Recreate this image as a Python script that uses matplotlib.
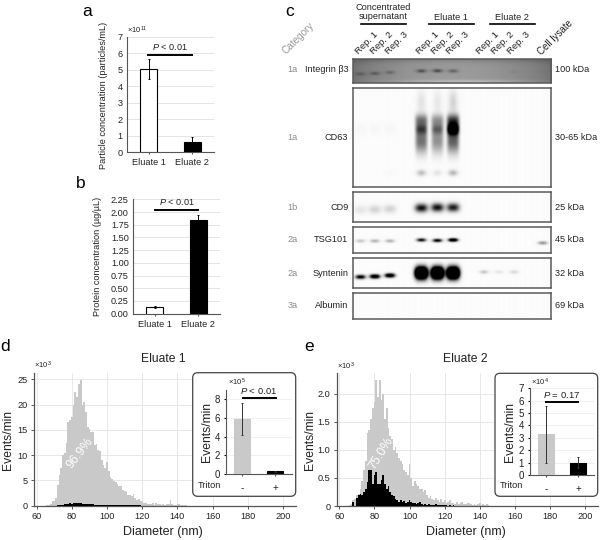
import numpy as np
import matplotlib
matplotlib.use("Agg")
import matplotlib.pyplot as plt
from matplotlib.patches import FancyBboxPatch

plt.rcParams['font.family'] = ['Liberation Sans', 'DejaVu Sans']
plt.rcParams['mathtext.fontset'] = 'custom'
plt.rcParams['mathtext.rm'] = 'Liberation Sans'
plt.rcParams['mathtext.it'] = 'Liberation Sans:italic'
plt.rcParams['axes.unicode_minus'] = False

# ---------- data ----------
eluates = ['Eluate 1', 'Eluate 2']
particle_vals = [5.05, 0.6]
particle_err = [0.6, 0.3]
protein_vals = [0.13, 1.84]
protein_err = [0.012, 0.11]

hist_start = 66
d_gray = [.05, .2, .4, .9, 1.0, 1.6, 4.0, 6.0, 7.5, 10, 10.5, 12.5, 16.5, 17, 17.5, 20, 22.5, 21.5, 24, 24.8,
          20, 20.5, 18.5, 15.5, 15.2, 14.5, 14.6, 12, 12.3, 11, 10.8, 9, 8, 7.4, 8.7, 6.8, 5.6, 5.2, 4.8, 4.6,
          4.2, 3.8, 3.8, 3.2, 3.0, 2.8, 2.2, 2.2, 1.9, 2.3, 1.6, 1.2, 1.3, .9, 1.0, .6, .5, .3, .4, .3,
          .5, .2, .6, .3, .4, .2, .3, .2, .3, .4, 1.1, .4, .2, .2, .3, .4, .1, .1, .1, .1]
d_black = [0, 0, 0, 0, 0, 0, .05, .1, .15, .2, .25, .3, .4, .45, .4, .5, .5, .45, .5, .45,
           .4, .35, .35, .3, .3, .25, .25, .2, .2, .2, .15, .15, .15, .15, .15, .1, .1, .1, .1, .1,
           .1, .1, .1, .05, .05, .05, .05, .05, .05, .05, .05, .05, .05, .05, .03, .03, .03, .03, .03, .03]
e_gray = [.02, .03, .1, .12, .2, .22, .3, .45, .65, .8, 1.3, 1.35, 1.55, 1.75, 1.85, 2.25, 1.95, 2.25, 1.9, 2.0,
          1.55, 1.75, 1.4, 1.25, 1.2, 1.0, 1.05, .95, .85, .8, .75, .65, .6, .55, .75, .5, .35, .45, .4, .35,
          .3, .3, .25, .28, .2, .15, .18, .12, .1, .15, .1, .08, .12, .07, .1, .06, .08, .1, .05, .06,
          .04, .07, .03, .05, .08, .04, .03, .05, .06, .03, .02, .04, .02, .03, .05, .02, .03, .02, .04, .02]
e_black = [0, 0, .08, 0, .15, .2, .22, .2, .25, .3, .42, .65, .65, .4, .55, .6, .4, .4, .47, .55,
           .4, .3, .35, .25, .2, .17, .12, .1, .08, .1, .07, .09, .06, .07, .1, .08, .05, .06, .04, .05,
           .07, .04, .02, .03, .02, .03, .02, .01, .02, .03, .01, .02, .01, .02, .01, .01, 0, .01, 0, .01]

triton = ['-', '+']
d_inset_vals = [5.9, 0.3]
d_inset_err = [1.7, 0.1]
e_inset_vals = [3.3, 1.0]
e_inset_err = [2.3, 0.45]

blot_names = ['Integrin β3', 'CD63', 'CD9', 'TSG101', 'Syntenin', 'Albumin']
blot_cats = ['1a', '1a', '1b', '2a', '2a', '3a']
blot_kda = ['100 kDa', '30-65 kDa', '25 kDa', '45 kDa', '32 kDa', '69 kDa']
lane_groups = ['Concentrated\nsupernatant', 'Eluate 1', 'Eluate 2']
rep_labels = ['Rep. 1', 'Rep. 2', 'Rep. 3']
# band strength per lane: 3 supernatant, 3 eluate 1, 3 eluate 2, cell lysate
integrin_i = [.35, .45, .35, .65, .7, .5, 0, 0, .08, .03]
cd63_core = [.02, .02, .02, .55, .45, 1.4, 0, 0, 0, 0]
cd63_upper = [0, 0, 0, .5, .38, .7, 0, 0, 0, 0]
cd63_lower = [0, 0, 0, .55, .42, .62, 0, 0, 0, 0]
cd63_top = [0, 0, 0, .10, .08, .16, 0, 0, 0, 0]
cd63_spot = [0, 0, .015, .25, .1, .28, 0, 0, 0, 0]
cd9_i = [.09, .16, .16, .95, .95, .9, 0, .01, 0, 0]
tsg101_i = [.22, .3, .3, 1.0, 1.1, 1.5, 0, 0, 0, .42]
syntenin_sup = [1.1, 1.4, 1.4, 0, 0, 0, 0, 0, 0, 0]
syntenin_el1 = [0, 0, 0, 3, 3, 3, 0, 0, 0, 0]
syntenin_el2 = [0, 0, 0, 0, 0, 0, .22, .09, .15, 0]

# ---------- layout helpers ----------
W, H = 600, 540
fig = plt.figure(figsize=(6, 5.4), dpi=100, facecolor='white')
INK = '#222222'
AX = '#555555'


def px_axes(x0, y0, x1, y1, **kw):
    return fig.add_axes([x0 / W, 1 - y1 / H, (x1 - x0) / W, (y1 - y0) / H], **kw)


ov = fig.add_axes([0, 0, 1, 1], zorder=5)
ov.set_xlim(0, W)
ov.set_ylim(H, 0)
ov.axis('off')
ov.patch.set_alpha(0)


def t(x, y, s, size=6.6, ha='center', va='center', color=INK, **kw):
    ov.text(x, y, s, fontsize=size, ha=ha, va=va, color=color, **kw)


def bar_panel(ax, vals, err, colors, ylim, ticks, labels, width, fs=6.6, ecol='black'):
    xs = np.arange(len(vals))
    ax.bar(xs, vals, width=width, color=colors, edgecolor='black' if colors[0] == 'white' else colors,
           linewidth=0.8, zorder=3)
    ax.errorbar(xs, vals, yerr=err, fmt='none', ecolor=ecol, elinewidth=0.7, capsize=1, capthick=0.7, zorder=4)
    ax.set_xlim(-0.5, 1.5)
    ax.set_ylim(*ylim)
    ax.set_yticks(ticks)
    ax.set_xticks(xs)
    ax.set_xticklabels(labels)
    ax.grid(axis='y', color='#e4e4e4', lw=0.7, zorder=0)
    ax.set_axisbelow(True)
    for s in ('top', 'right'):
        ax.spines[s].set_visible(False)
    for s in ('left', 'bottom'):
        ax.spines[s].set_color(AX)
        ax.spines[s].set_linewidth(0.8)
    ax.tick_params(axis='y', length=0, labelsize=fs, pad=3, labelcolor=INK)
    ax.tick_params(axis='x', length=1.5, labelsize=fs, pad=3, color=AX, labelcolor=INK)
    ax.patch.set_alpha(0)


# ---------- panel a ----------
a = px_axes(127, 37, 214, 152)
bar_panel(a, particle_vals, particle_err, ['white', 'black'], (0, 7), range(8), eluates, 0.4)
a.set_yticklabels([str(i) for i in range(8)])
ov.plot([148, 192], [54.7, 54.7], color='black', lw=1.4)
t(170, 47, r'$\mathit{P}$ < 0.01')
t(127, 30, r'×10$^{11}$', size=5.5, ha='left')
t(104, 95, 'Particle concentration (particles/mL)', rotation=90)
t(87, 12, 'a', size=12.5, color='black')

# ---------- panel b ----------
b = px_axes(133, 199.3, 220, 313.7)
b_ticks = np.arange(0, 2.26, 0.25)
bar_panel(b, protein_vals, protein_err, ['white', 'black'], (0, 2.25), b_ticks, eluates, 0.4)
b.set_yticklabels([f'{v:.2f}' for v in b_ticks])
ov.plot([155, 198], [210, 210], color='black', lw=1.4)
t(176.7, 202.3, r'$\mathit{P}$ < 0.01')
t(98, 256, 'Protein concentration (µg/µL)', rotation=90)
t(81, 184, 'b', size=12.5, color='black')

# ---------- panel c (blots) ----------
lane_x = np.array([360, 374.3, 389.3, 420.7, 436.7, 452.3, 483, 498, 513, 541.7])
BX0, BX1 = 352.7, 550.7
blot_y = [(59, 83), (88, 187), (192, 222), (227, 253), (258, 288), (293, 319)]


def blot_signal(y0, y1, bands):
    """bands: (strength per lane, y centre, half width, half height, edge power)"""
    xx = np.linspace(BX0, BX1, 400)
    yy = np.linspace(y0, y1, max(60, int((y1 - y0) * 3)))
    X, Y = np.meshgrid(xx, yy)
    I = np.zeros_like(X)
    for strengths, yc, sx, sy, p in bands:
        for k, s in enumerate(strengths):
            if s <= 0:
                continue
            yk = yc[k] if np.ndim(yc) else yc
            I += s * np.exp(-(np.abs(X - lane_x[k]) / sx) ** p - ((Y - yk) / sy) ** 2)
    return X, Y, I


def show(idx, spec, darkbg=False):
    y0, y1 = blot_y[idx]
    ax = px_axes(BX0, y0, BX1, y1)
    X, Y, I = blot_signal(y0, y1, spec)
    if darkbg:
        fx = (X - BX0) / (BX1 - BX0)
        fy = (Y - y0) / (y1 - y0)
        base = 0.44 + 0.17 * np.sin(np.pi * fx) ** 0.7 - 0.12 * np.exp(-fy / 0.12) \
            + 0.12 * np.exp(-((fy - .95) / .08) ** 2) * np.exp(-((fx - .55) / .35) ** 2)
        img = np.clip(base * (1 - 0.75 * np.clip(I, 0, 1)), 0, 1)
    else:
        img = np.clip(0.985 * (1 - np.clip(I, 0, 1)), 0, 1)
    ax.imshow(img, cmap='gray', vmin=0, vmax=1, aspect='auto', extent=[BX0, BX1, y1, y0], interpolation='bilinear')
    ax.set_xticks([])
    ax.set_yticks([])
    for s in ax.spines.values():
        s.set_color('#5a5a5a')
        s.set_linewidth(1.1)


show(0, [(integrin_i, np.array([74, 73.5, 72.5, 71, 70.8, 71, 0, 0, 72, 72]), 5, 1.8, 2)], darkbg=True)
show(1, [
    (cd63_core, 129, 5.8, 5.5, 4),
    (cd63_upper, 120, 6.2, 6, 4),
    (cd63_lower, 141, 6.0, 12, 4),
    (cd63_top, 102, 4.5, 12, 2),
    (cd63_spot, 173, 4.5, 3, 2),
])
show(2, [(cd9_i, np.array([210, 209.5, 209, 208, 207.5, 207.5, 0, 0, 0, 0]), 6.2, 4.2, 2.6)])
show(3, [(tsg101_i, np.array([241, 241, 241, 240, 240.5, 240, 0, 0, 0, 243]), 4.6, 1.7, 2.4)])
show(4, [(syntenin_sup, np.array([277, 276.5, 275.5, 0, 0, 0, 0, 0, 0, 0]), 5, 2.1, 2.6),
         (syntenin_el1, 273, 6.2, 5.8, 3),
         (syntenin_el2, 272, 4.2, 1.8, 2)])
show(5, [])

for i, (y0, y1) in enumerate(blot_y):
    yc = (y0 + y1) / 2 + (-1 if i == 0 else 0)
    t(292.3, yc, blot_cats[i], color='#8c8c8c')
    t(348.3, yc, blot_names[i], ha='right')
    t(555, yc, blot_kda[i], ha='left')

t(383.3, 11.7, lane_groups[0], linespacing=1.05)
t(451, 17.3, lane_groups[1])
t(512.3, 17.3, lane_groups[2])
for xa, xb in [(360.7, 406), (429, 474), (489.7, 535)]:
    ov.plot([xa, xb], [24.3, 24.3], color='black', lw=1.2)
for starts in ([357, 372.3, 387.3], [417.7, 433, 448], [478, 493, 509]):
    for xs_, lab in zip(starts, rep_labels):
        t(xs_, 53, lab, size=6.8, ha='left', va='center', rotation=45, rotation_mode='anchor')
t(539.3, 53, 'Cell lysate', size=7, ha='left', va='center', rotation=45, rotation_mode='anchor')
t(298.7, 38.3, 'Category', size=7.2, rotation=45, color='#999999')
t(290, 12, 'c', size=12.5, color='black')


# ---------- panels d, e ----------
def hist_panel(box, xlim, ylim, yticks, gray, black):
    ax = px_axes(*box)
    ge = hist_start - 0.5 + np.arange(len(gray) + 1)
    be = hist_start - 0.5 + np.arange(len(black) + 1)
    ax.stairs(gray, ge, fill=True, color='#c9c9c9', zorder=2, linewidth=0)
    ax.stairs(black, be, fill=True, color='black', zorder=3, linewidth=0)
    ax.set_xlim(*xlim)
    ax.set_ylim(*ylim)
    ax.set_xticks(range(60, 201, 20))
    ax.set_yticks(yticks)
    ax.grid(color='#e8e8e8', lw=0.7, zorder=0)
    ax.set_axisbelow(True)
    for s in ('top', 'right'):
        ax.spines[s].set_visible(False)
    for s in ('left', 'bottom'):
        ax.spines[s].set_color(AX)
        ax.spines[s].set_linewidth(0.9)
    ax.tick_params(labelsize=6.6, length=2, width=0.7, color=AX, labelcolor=INK, pad=2.5)
    return ax


d = hist_panel((34, 373, 295.7, 505.7), (58.5, 207.2), (0, 26.25), [0, 5, 10, 15, 20, 25], d_gray, d_black)
e = hist_panel((336.7, 372.7, 597.7, 506), (58.5, 207.2), (0, 2.38), [0, .5, 1, 1.5, 2], e_gray, e_black)
e.set_yticklabels(['0', '0.5', '1.0', '1.5', '2.0'])

t(80, 453, '96.9%', size=9, color='white', rotation=52)
t(381.7, 453, '75.0%', size=9, color='white', rotation=58)
t(163, 359, 'Eluate 1', size=8.7)
t(465.7, 359, 'Eluate 2', size=8.7)
t(163, 531.7, 'Diameter (nm)', size=9)
t(466, 531.7, 'Diameter (nm)', size=9)
t(7.7, 440, 'Events/min', size=8.7, rotation=90)
t(310, 440, 'Events/min', size=8.7, rotation=90)
t(34, 365.7, r'×10$^{3}$', size=5.5, ha='left')
t(336.7, 366, r'×10$^{3}$', size=5.5, ha='left')
t(5, 346.7, 'd', size=12.5, color='black')
t(309, 346.7, 'e', size=12.5, color='black')

# insets
for x0, y0, x1, y1 in [(192.7, 372.7, 295.7, 496.3), (495, 373.3, 597.7, 496.3)]:
    ov.add_patch(FancyBboxPatch((x0 + 4, y0 + 4), x1 - x0 - 8, y1 - y0 - 8,
                                boxstyle='round,pad=4,rounding_size=5', fc='white', ec='#444444', lw=0.9))

inset_d = px_axes(226, 390, 291.7, 474.3, zorder=6)
bar_panel(inset_d, d_inset_vals, d_inset_err, ['#c9c9c9', 'black'], (0, 8 * 84.3 / 75.3), [0, 2, 4, 6, 8], triton, 0.49, ecol='#333333')
inset_e = px_axes(530, 388.3, 594, 475, zorder=6)
bar_panel(inset_e, e_inset_vals, e_inset_err, ['#c9c9c9', 'black'], (0, 7), range(8), triton, 0.49, ecol='#333333')
for ins in (inset_d, inset_e):
    ins.grid(False)
    ins.grid(axis='y', color='#eeeeee', lw=0.6)
    ins.tick_params(axis='y', labelsize=7, length=1.5)
    ins.tick_params(axis='x', labelsize=7, length=1.5, pad=5)

inset_p = [(243.3, 275.7, 398, 259, 390.7, r'$\mathit{P}$ < 0.01', 227.7, r'×10$^{5}$', 207, 197.3),
           (545.7, 577.7, 402, 561.7, 395, r'$\mathit{P}$ = 0.17', 530.7, r'×10$^{4}$', 510, 499.3)]
fov = fig.add_axes([0, 0, 1, 1], zorder=7)
fov.set_xlim(0, W)
fov.set_ylim(H, 0)
fov.axis('off')
fov.patch.set_alpha(0)
for xa, xb, yb, xp, yp, ptxt, xe, etxt, xl, xt in inset_p:
    fov.plot([xa, xb], [yb, yb], color='black', lw=1.4)
    fov.text(xp, yp, ptxt, fontsize=6.8, ha='center', va='center', color=INK)
    fov.text(xe, 382.7, etxt, fontsize=5.5, ha='left', va='center', color=INK)
    fov.text(xl, 432.5, 'Events/min', fontsize=8.7, rotation=90, ha='center', va='center', color=INK)
    fov.text(xt, 485.7, 'Triton', fontsize=6.6, ha='left', va='center', color=INK)

fig.savefig('out.png', dpi=100)
